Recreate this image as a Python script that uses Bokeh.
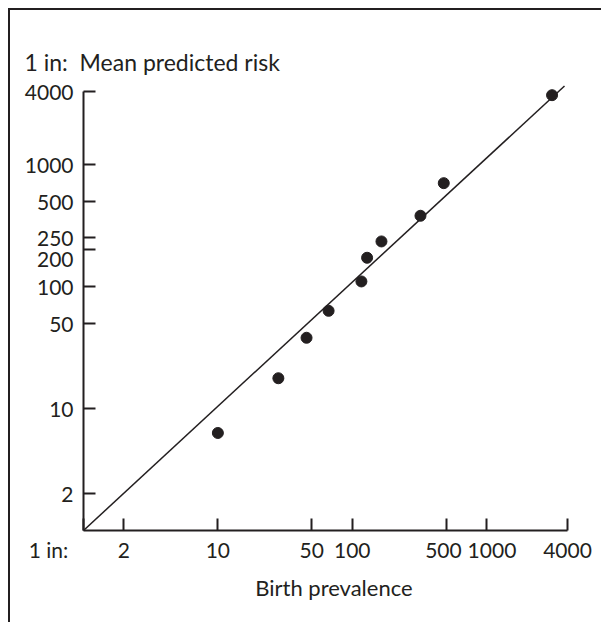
from bokeh.plotting import figure
from bokeh.models import Range1d, FixedTicker, ColumnDataSource
from bokeh.embed import file_html
from bokeh.resources import INLINE

# Data
prevalence = [10, 28.2, 45.7, 66.7, 117, 129, 165, 322, 480, 3070]
predicted = [6.3, 17.7, 38.0, 63.2, 110, 172, 234, 380, 703, 3700]

equality_x = [1, 3800]
equality_y = [1, 4400]

NB = "\u00a0"
x_ticks = [1, 2, 10, 50, 100, 500, 1000, 4000]
x_tick_labels = ["1 in:" + NB * 13, "2", "10", "50", "100", "500" + NB, NB * 2 + "1000", "4000"]
y_ticks = [2, 10, 50, 100, 200, 250, 500, 1000, 4000]
y_tick_labels = ["2", "10", "50", "100", "\n200", "250", "500", "1000", "4000"]

title_text = "1 in:" + NB + " Mean predicted risk"
x_title = NB * 3 + "Birth prevalence"

INK = "#231f20"
FONT = "Lato"

p = figure(width=593, height=614, x_axis_type="log", y_axis_type="log",
           x_range=Range1d(1, 4000), y_range=Range1d(1, 4700),
           output_backend="svg", toolbar_location=None,
           min_border_left=73, min_border_right=36, min_border_top=72,
           min_border_bottom=94)
p.styles = {"margin-left": "10px", "margin-top": "10px", "overflow": "hidden",
            "box-shadow": "-2px -2px 0px 0px " + INK}
p.outline_line_color = None
p.xgrid.visible = False
p.ygrid.visible = False
p.background_fill_color = "white"
p.border_fill_color = "white"

p.title.text = title_text
p.title.align = "left"
p.title.offset = -59
p.title.text_font = FONT
p.title.text_font_size = "23px"
p.title.text_font_style = "normal"
p.title.text_color = INK
p.title.standoff = 13

for ax, ticks, labels in ((p.xaxis[0], x_ticks, x_tick_labels), (p.yaxis[0], y_ticks, y_tick_labels)):
    ax.ticker = FixedTicker(ticks=ticks, minor_ticks=[])
    ax.major_label_overrides = {t: l for t, l in zip(ticks, labels)}
    ax.major_tick_in = 12
    ax.major_tick_out = 0
    ax.minor_tick_in = 0
    ax.minor_tick_out = 0
    ax.axis_line_width = 2
    ax.axis_line_color = INK
    ax.major_tick_line_width = 2
    ax.major_tick_line_color = INK
    ax.major_label_text_font = FONT
    ax.major_label_text_font_size = "21px"
    ax.major_label_text_color = INK
    ax.bounds = (1, 4000)

p.yaxis.major_label_text_line_height = 0.7
p.xaxis.major_label_standoff = 6
p.yaxis.major_label_standoff = 10
p.xaxis.axis_label = x_title
p.xaxis.axis_label_text_font = FONT
p.xaxis.axis_label_text_font_size = "22px"
p.xaxis.axis_label_text_font_style = "normal"
p.xaxis.axis_label_text_color = INK
p.xaxis.axis_label_standoff = 9

p.line(equality_x, equality_y, line_color=INK, line_width=1.5)

src = ColumnDataSource(data=dict(x=prevalence, y=predicted))
p.scatter("x", "y", source=src, size=11, fill_color=INK, line_color=INK)

open("out.html", "w").write(file_html(p, INLINE))
